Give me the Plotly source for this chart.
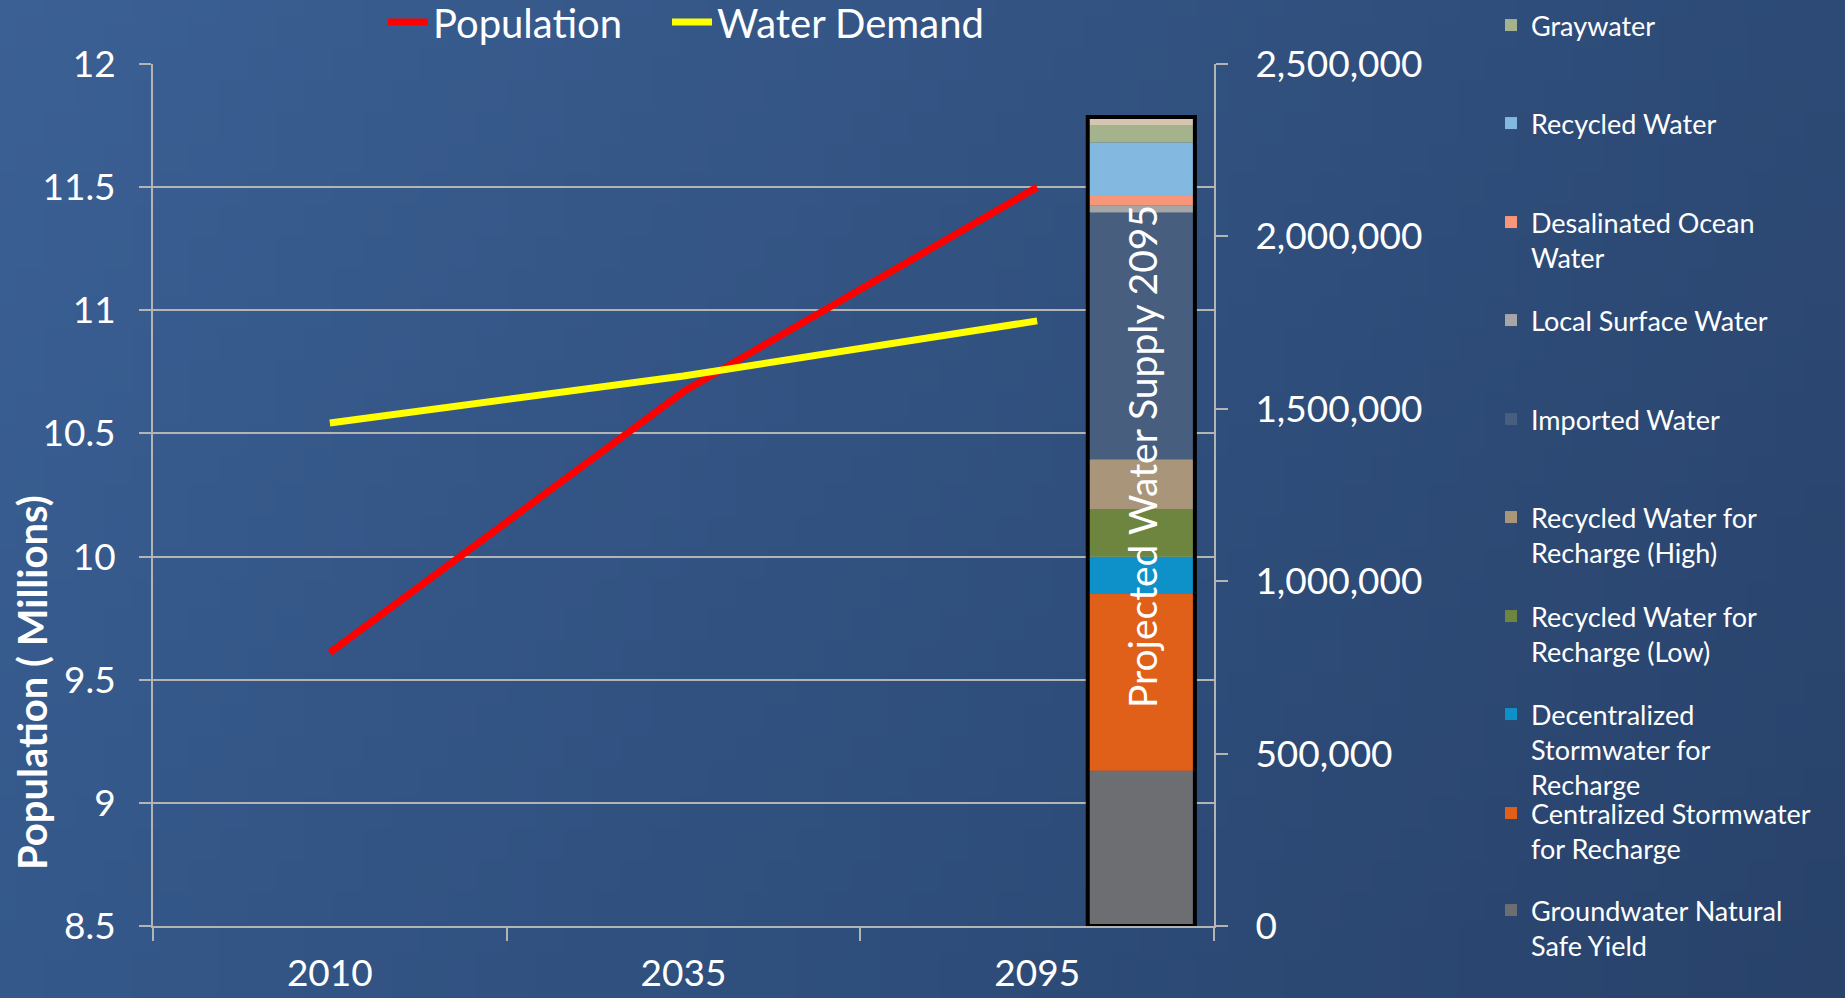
import base64
import struct
import zlib

import plotly.graph_objects as go

# ---------------- data ----------------
years = ["2010", "2035", "2095"]
population_millions = [9.61, 10.67, 11.50]
water_demand_afy = [1459000, 1595000, 1755000]

supply_category = "2095"
supply_sources = [  # bottom -> top of the stacked bar
    "Groundwater Natural<br>Safe Yield",
    "Centralized Stormwater<br>for Recharge",
    "Decentralized<br>Stormwater for<br>Recharge",
    "Recycled Water for<br>Recharge (Low)",
    "Recycled Water for<br>Recharge (High)",
    "Imported Water",
    "Local Surface Water",
    "Desalinated Ocean<br>Water",
    "Recycled Water",
    "Graywater",
    "Other",
]
supply_values = [450000, 515000, 106000, 138000, 145000, 715000,
                 21000, 27000, 155000, 51000, 23000]
supply_colors = ["#6D6E72", "#E0601A", "#0E90C8", "#6E8540", "#A9967A",
                 "#485E7F", "#A6A6A6", "#F8967A", "#83B8E0", "#A5B38D",
                 "#D6C6B0"]
supply_in_legend = [True] * 10 + [False]

y_left_ticks = [8.5, 9, 9.5, 10, 10.5, 11, 11.5, 12]
y_right_ticks = [0, 500000, 1000000, 1500000, 2000000, 2500000]

bar_label = "Projected Water Supply 2095"
y_title = "Population ( Millions)"

# ---------------- background gradient ----------------
def gradient_png(w, h, tl, tr, bl, br):
    raw = bytearray()
    for j in range(h):
        raw.append(0)
        fy = j / (h - 1)
        for i in range(w):
            fx = i / (w - 1)
            for c in range(3):
                top = tl[c] * (1 - fx) + tr[c] * fx
                bot = bl[c] * (1 - fx) + br[c] * fx
                raw.append(int(round(top * (1 - fy) + bot * fy)))

    def chunk(t, d):
        c = struct.pack(">I", len(d)) + t + d
        return c + struct.pack(">I", zlib.crc32(t + d) & 0xFFFFFFFF)

    png = (b"\x89PNG\r\n\x1a\n"
           + chunk(b"IHDR", struct.pack(">IIBBBBB", w, h, 8, 2, 0, 0, 0))
           + chunk(b"IDAT", zlib.compress(bytes(raw)))
           + chunk(b"IEND", b""))
    return "data:image/png;base64," + base64.b64encode(png).decode()


bg = gradient_png(64, 32, (59, 96, 148), (45, 74, 118), (52, 88, 138), (40, 66, 106))

W, H = 1845, 998
ML, MR, MT, MB = 153, 631, 64, 72
PW, PH = W - ML - MR, H - MT - MB


def px_to_paper_x(px):
    return (px - ML) / PW


def px_to_paper_y(py):
    return (H - MB - py) / PH


def cx(px):
    return px / W


def cy(py):
    return 1 - py / H


FONT = "Lato, 'Open Sans', sans-serif"
WHITE = "#FFFFFF"

fig = go.Figure()

# stacked supply bar (overlay with computed bases)
base = 0
legend_slots = []
for name, val, col, show in zip(supply_sources, supply_values, supply_colors, supply_in_legend):
    kw = {}
    if show:
        legend_slots.append(name)
        kw["legend"] = "legend%d" % (len(legend_slots) + 2)
    fig.add_trace(go.Bar(
        x=[supply_category], y=[val], base=[base], name=name,
        marker=dict(color=col, line=dict(width=0)),
        width=0.303, offset=0.143, yaxis="y2",
        showlegend=show, **kw,
    ))
    base += val

# outline of the whole stack
fig.add_trace(go.Bar(
    x=[supply_category], y=[sum(supply_values)], base=[0], name="Total supply",
    marker=dict(color="rgba(0,0,0,0)", line=dict(color="#000000", width=4)),
    width=0.303, offset=0.143, yaxis="y2", showlegend=False,
))

# lines
fig.add_trace(go.Scatter(
    x=years, y=population_millions, name="Population", mode="lines",
    line=dict(color="#FF0000", width=7), yaxis="y", legend="legend",
))
fig.add_trace(go.Scatter(
    x=years, y=water_demand_afy, name="Water Demand", mode="lines",
    line=dict(color="#FFFF00", width=7), yaxis="y2", legend="legend2",
))

axis_line = "#B4B4B4"
tick_font = dict(family=FONT, size=37, color=WHITE)
top_legend_font = dict(family=FONT, size=40, color=WHITE)

layout = dict(
    width=W, height=H,
    margin=dict(l=ML, r=MR, t=MT, b=MB, pad=0, autoexpand=False),
    paper_bgcolor="#34578A",
    plot_bgcolor="rgba(0,0,0,0)",
    barmode="overlay",
    images=[dict(source=bg, xref="paper", yref="paper",
                 x=px_to_paper_x(0), y=px_to_paper_y(0),
                 sizex=W / PW, sizey=H / PH, xanchor="left", yanchor="top",
                 sizing="stretch", layer="below")],
    xaxis=dict(type="category", categoryorder="array", categoryarray=years,
               range=[-0.5, 2.5], tickson="boundaries", ticks="outside",
               ticklen=13, tickwidth=2, tickcolor=axis_line, showline=True,
               linecolor=axis_line, linewidth=2, showgrid=False,
               tickfont=tick_font, ticklabelstandoff=14, automargin=False),
    yaxis=dict(range=[8.5, 12], tickvals=y_left_ticks, ticks="outside",
               ticklen=12, tickwidth=2, tickcolor=axis_line, showline=True,
               linecolor=axis_line, linewidth=2, showgrid=True,
               gridcolor=axis_line, gridwidth=2, zeroline=False,
               tickfont=tick_font, ticklabelstandoff=16, automargin=False),
    yaxis2=dict(range=[0, 2500000], tickvals=y_right_ticks, tickformat=",",
                overlaying="y", side="right", ticks="outside", ticklen=12,
                tickwidth=2, tickcolor=axis_line, showline=True,
                linecolor=axis_line, linewidth=2, showgrid=False,
                zeroline=False, tickfont=tick_font, ticklabelstandoff=20,
                automargin=False),
    legend=dict(orientation="h", xref="container", yref="container",
                x=cx(383), xanchor="left", y=cy(22), yanchor="middle",
                font=top_legend_font, bgcolor="rgba(0,0,0,0)", itemwidth=40),
    legend2=dict(orientation="h", xref="container", yref="container",
                 x=cx(667), xanchor="left", y=cy(22), yanchor="middle",
                 font=top_legend_font, bgcolor="rgba(0,0,0,0)", itemwidth=40),
    annotations=[
        dict(text=bar_label, textangle=-90, xref="paper", yref="paper",
             x=px_to_paper_x(1142), y=px_to_paper_y(457), showarrow=False,
             font=dict(family=FONT, size=39, color=WHITE),
             xanchor="center", yanchor="middle"),
        dict(text="<b>%s</b>" % y_title, textangle=-90, xref="paper",
             yref="paper", x=px_to_paper_x(32), y=px_to_paper_y(683),
             showarrow=False, font=dict(family=FONT, size=40, color=WHITE),
             xanchor="center", yanchor="middle"),
    ],
    showlegend=True,
)

# one legend per supply source, placed at fixed heights like the original key
legend_centers = {
    "Graywater": 27, "Recycled Water": 125, "Desalinated Ocean<br>Water": 224,
    "Local Surface Water": 322, "Imported Water": 421,
    "Recycled Water for<br>Recharge (High)": 519,
    "Recycled Water for<br>Recharge (Low)": 618,
    "Decentralized<br>Stormwater for<br>Recharge": 716,
    "Centralized Stormwater<br>for Recharge": 815,
    "Groundwater Natural<br>Safe Yield": 912,
}
for idx, name in enumerate(legend_slots):
    layout["legend%d" % (idx + 3)] = dict(
        xref="container", yref="container",
        x=cx(1491), xanchor="left",
        y=cy(legend_centers[name] - 26), yanchor="top",
        valign="top", bgcolor="rgba(0,0,0,0)",
        font=dict(family=FONT, size=27, color=WHITE),
    )

fig.update_layout(**layout)

fig.write_html("out.html", config={"displayModeBar": False},
               post_script="document.body.style.margin='0';document.body.style.overflow='hidden';")
